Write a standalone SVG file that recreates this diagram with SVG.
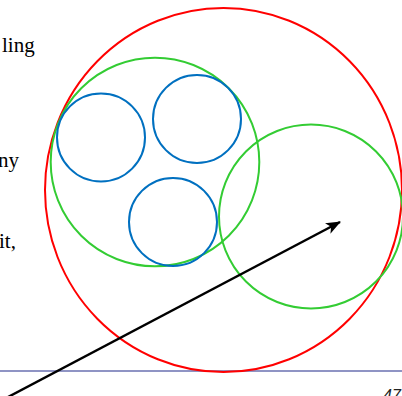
<svg xmlns="http://www.w3.org/2000/svg" width="402" height="396" viewBox="0 0 402 396">
<style>
.red{fill:none;stroke:#ff0000;stroke-width:2}
.grn{fill:none;stroke:#33cc33;stroke-width:2}
.blu{fill:none;stroke:#0070c0;stroke-width:2}
</style>
<defs>
<marker id="ah" markerWidth="16" markerHeight="12" refX="14" refY="6" orient="auto" markerUnits="userSpaceOnUse">
<path d="M0,0 L15,6 L0,12 L4,6 Z" fill="#000"/>
</marker>
</defs>
<rect width="402" height="396" fill="#fff"/>
<g font-family="'Liberation Serif','Times New Roman',serif" font-size="21" fill="#000">
<text x="2" y="52">ling</text>
<text x="-2" y="167">ny</text>
<text x="-1" y="248">it,</text>
</g>
<line x1="0" y1="371" x2="402" y2="371" stroke="#8f94c4" stroke-width="2"/>
<g id="outer"><ellipse class="red" cx="223.5" cy="190" rx="178.5" ry="182"/></g>
<g id="groupA"><circle class="grn" cx="155" cy="162" r="104.3"/></g>
<g id="groupB"><circle class="grn" cx="311" cy="216.5" r="92"/></g>
<g id="leaf1"><circle class="blu" cx="101" cy="137.5" r="44"/></g>
<g id="leaf2"><circle class="blu" cx="197" cy="119" r="44"/></g>
<g id="leaf3"><circle class="blu" cx="173" cy="222" r="44"/></g>
<g id="connectors">
<line x1="8" y1="397" x2="340" y2="222" stroke="#000" stroke-width="2.5" marker-end="url(#ah)"/>
</g>
<text x="383" y="401" font-family="'Liberation Sans',Arial,sans-serif" font-size="16" font-style="italic" fill="#222">47</text>
</svg>
